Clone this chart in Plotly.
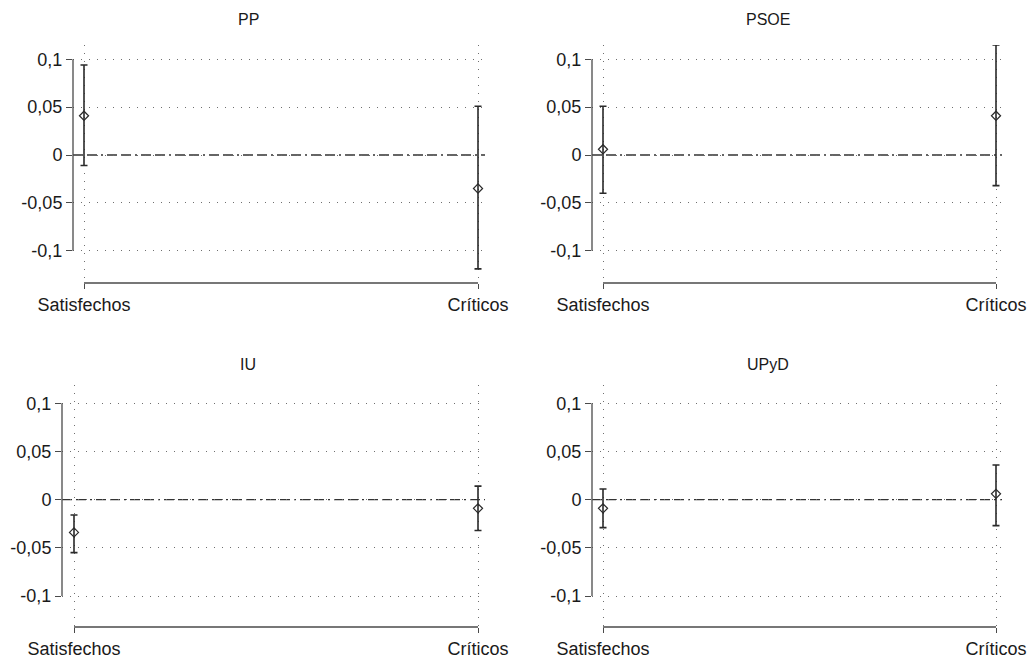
import plotly.graph_objects as go

W, H = 1029, 658

categories = ["Satisfechos", "Críticos"]
parties = ["PP", "PSOE", "IU", "UPyD"]

pp_est = [0.041, -0.035]
pp_hi = [0.094, 0.051]
pp_lo = [-0.011, -0.119]

psoe_est = [0.006, 0.041]
psoe_hi = [0.051, 0.115]
psoe_lo = [-0.040, -0.032]

iu_est = [-0.034, -0.009]
iu_hi = [-0.016, 0.014]
iu_lo = [-0.055, -0.032]

upyd_est = [-0.009, 0.006]
upyd_hi = [0.011, 0.036]
upyd_lo = [-0.029, -0.027]

tick_vals = [-0.1, -0.05, 0, 0.05, 0.1]
tick_text = ["-0,1", "-0,05", "0", "0,05", "0,1"]

series = [
    (pp_est, pp_hi, pp_lo),
    (psoe_est, psoe_hi, psoe_lo),
    (iu_est, iu_hi, iu_lo),
    (upyd_est, upyd_hi, upyd_lo),
]

# panel layout in pixels: (axis_left, cat0_x, cat1_x, right_end, top, bottom, y_at_0.1, y_at_-0.1, title_x, title_y)
panels = [
    (73, 84, 478, 485, 45, 283, 59.3, 250.7, 248, 20),
    (592, 603, 996, 1002, 45, 283, 59.3, 250.7, 768, 20),
    (62, 74, 478, 485, 385, 627, 403.3, 596.0, 248, 365),
    (592, 603, 996, 1002, 385, 627, 403.3, 596.0, 768, 365),
]

FONT = "Liberation Sans, Arial, sans-serif"
TXT = "#1a1a1a"
AX = "#4a4a4a"
GRID = "#6f6f6f"
MARK = "#2a2a2a"

fig = go.Figure()
layout = dict(
    template="none",
    width=W, height=H, margin=dict(l=0, r=0, t=0, b=0, autoexpand=False),
    paper_bgcolor="white", plot_bgcolor="white", showlegend=False,
    font=dict(family=FONT, color=TXT),
)
shapes = []
annotations = []

for i, ((est, hi, lo), p, name) in enumerate(zip(series, panels, parties)):
    axl, c0, c1, rend, top, bot, y01, ym01, tx, ty = p
    unit_x = c1 - c0
    xr = [(axl - c0) / unit_x, (rend - c0) / unit_x]
    unit_y = (ym01 - y01) / 0.2
    y0px = (y01 + ym01) / 2
    yr = [-(bot - y0px) / unit_y, (y0px - top) / unit_y]
    sfx = "" if i == 0 else str(i + 1)
    xa, ya = "x" + sfx, "y" + sfx

    err_plus = [h - e for h, e in zip(hi, est)]
    err_minus = [e - l for e, l in zip(est, lo)]
    fig.add_trace(go.Scatter(
        x=categories, y=est, mode="markers", xaxis=xa, yaxis=ya,
        marker=dict(symbol="diamond-open", size=7, color=MARK, line=dict(width=1.2, color=MARK)),
        error_y=dict(type="data", symmetric=False, array=err_plus, arrayminus=err_minus,
                     color=MARK, thickness=1.6, width=3.5),
        cliponaxis=False,
    ))

    layout["xaxis" + sfx] = dict(
        domain=[axl / W, rend / W], anchor=ya, type="category", automargin=False,
        categoryorder="array", categoryarray=categories,
        range=xr, showgrid=True, griddash="1px,7px", gridcolor=GRID, gridwidth=1,
        showline=False, zeroline=False, ticks="outside", ticklen=5, tickwidth=1.3,
        tickcolor=AX, tickfont=dict(size=18, family=FONT, color=TXT), fixedrange=True,
    )
    layout["yaxis" + sfx] = dict(
        domain=[1 - bot / H, 1 - top / H], anchor=xa, range=yr, automargin=False,
        tickvals=tick_vals, ticktext=tick_text, showgrid=True, griddash="1px,7px",
        gridcolor=GRID, gridwidth=1, showline=False, zeroline=False,
        ticks="outside", ticklen=6, tickwidth=1.3, tickcolor=AX,
        tickfont=dict(size=18, family=FONT, color=TXT), fixedrange=True,
    )
    # y axis line spanning the tick range only
    shapes.append(dict(type="line", xref=xa + " domain", yref=ya, x0=0, x1=0,
                       y0=min(tick_vals), y1=max(tick_vals),
                       line=dict(color=AX, width=1.3)))
    # x axis line spanning the categories
    shapes.append(dict(type="line", xref=xa, yref=ya + " domain", x0=0, x1=len(categories) - 1,
                       y0=0, y1=0, line=dict(color=AX, width=1.3)))
    # reference line at zero
    shapes.append(dict(type="line", xref=xa + " domain", yref=ya, x0=0, x1=1, y0=0, y1=0,
                       line=dict(color="#333333", width=1.4, dash="10px,4px,10px,4px,2px,4px"),
                       layer="below"))
    annotations.append(dict(text=name, xref="paper", yref="paper", x=tx / W, y=1 - ty / H,
                            xanchor="center", yanchor="middle", showarrow=False,
                            font=dict(size=16, family=FONT, color=TXT)))

layout["shapes"] = shapes
layout["annotations"] = annotations
fig.update_layout(**layout)
fig.write_html("out.html")
